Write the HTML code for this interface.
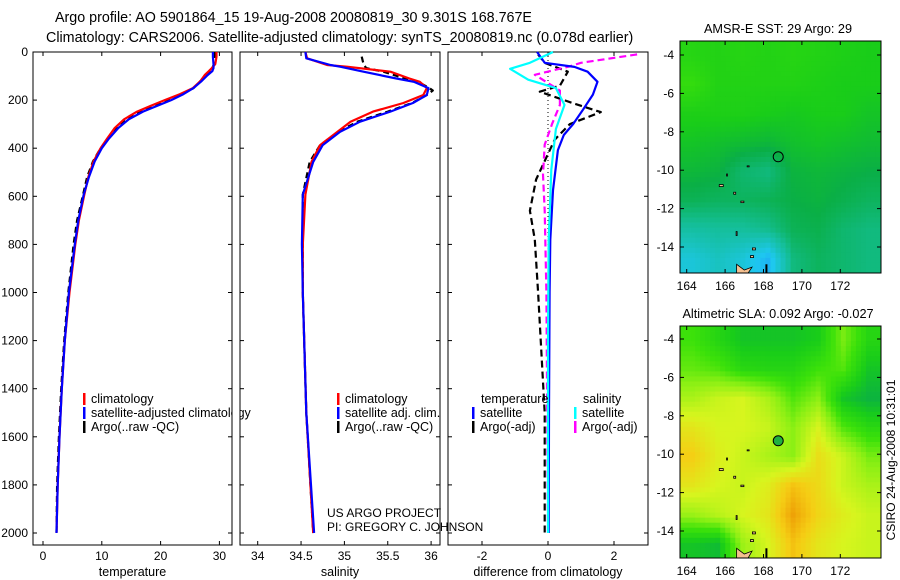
<!DOCTYPE html>
<html><head><meta charset="utf-8"><style>
html,body{margin:0;padding:0;background:#fff;}
svg{display:block;font-family:"Liberation Sans",sans-serif;}
</style></head><body>
<svg id="fig" width="900" height="580" viewBox="0 0 900 580" xmlns="http://www.w3.org/2000/svg">
<text x="55" y="22" font-size="14.3">Argo profile: AO 5901864_15 19-Aug-2008 20080819_30 9.301S 168.767E</text>
<text x="46" y="42" font-size="14.3">Climatology: CARS2006. Satellite-adjusted climatology: synTS_20080819.nc (0.078d earlier)</text>
<g id="plots"></g>
<text x="327" y="517" font-size="12">US ARGO PROJECT</text>
<text x="327" y="531" font-size="12">PI: GREGORY C. JOHNSON</text>
<text transform="translate(895,460) rotate(-90)" text-anchor="middle" font-size="12">CSIRO 24-Aug-2008 10:31:01</text>
</svg>
<script>
// ---- profile data ----
const tDepth = [0,20,50,67,80,96,120,150,175,200,225,248,280,316,360,400,455,520,595,700,800,1000,1200,1400,1600,1800,2000];
const tClim  = [29.5,29.5,29.3,28.7,28.2,27.5,26.8,25.5,23.3,20.7,18.2,16.0,13.8,12.2,10.9,9.8,8.6,7.7,7.0,6.1,5.5,4.5,3.7,3.2,2.8,2.5,2.3];
const tSat   = [28.9,28.9,29.0,29.0,28.8,28.0,27.0,25.6,23.9,21.8,19.3,17.0,14.6,12.8,11.2,10.0,8.8,7.8,6.9,6.0,5.4,4.4,3.7,3.2,2.8,2.5,2.3];
const tArgo  = [29.2,29.2,29.1,28.8,28.4,27.6,26.8,25.6,23.6,21.2,18.7,16.4,14.2,12.5,11.0,9.8,8.5,7.5,6.8,5.8,5.2,4.3,3.6,3.1,2.7,2.4,2.3];
const sDepth = [0,26,54,61,82,110,124,150,179,212,248,290,332,387,457,593,800,1000,1500,2000];
const sClim  = [34.55,34.57,34.8,35.03,35.53,35.75,35.87,35.95,35.91,35.68,35.33,35.07,34.92,34.72,34.62,34.55,34.52,34.52,34.56,34.64];
const sSat   = [34.55,34.56,34.84,34.95,35.22,35.6,35.8,35.97,35.95,35.79,35.53,35.18,34.95,34.75,34.64,34.52,34.51,34.52,34.56,34.65];
const sArgoDepth = [19,50,67,82,110,124,150,160,179,212,248,290,332,387,457,593,800,1000,1500,2000];
const sArgo  = [35.2,35.22,35.25,35.45,35.7,35.85,35.98,36.02,35.95,35.78,35.5,35.15,34.93,34.72,34.6,34.52,34.52,34.52,34.56,34.64];
const dDepth = [0,45,62,82,124,177,240,300,345,408,575,780,1000,1500,2000];
const dTSat  = [-0.33,-0.1,0.8,1.2,1.5,1.36,1.06,0.76,0.48,0.3,0.15,0.07,0.05,0.03,0.02];
const cDepth = [0,45,70,115,150,220,320,490,780,1200,2000];
const dSSat  = [0.15,-0.55,-1.15,-0.6,0.24,0.5,0.24,0.1,0.02,0.0,0.0];
const mDepth = [10,45,60,95,160,220,300,385,510,660,1000,2000];
const dSArgo = [2.7,1.0,0.65,-0.4,0.36,0.36,0.12,-0.1,-0.15,-0.1,-0.05,0.0];
const kDepth = [10,45,82,140,165,215,250,300,365,530,660,780,1000,1500,2000];
const dTArgo = [-0.3,-0.1,0.6,0.36,-0.25,0.8,1.6,0.66,0.2,-0.36,-0.55,-0.4,-0.3,-0.1,-0.1];
const depthTicks = [0,200,400,600,800,1000,1200,1400,1600,1800,2000];
const tTicks = [0,10,20,30];
const sTicks = [34,34.5,35,35.5,36];
const dTicks = [-2,0,2];
// ---- map data (rows north->south, cols west->east) ----
const sstGrid = [
[0.55,0.54,0.55,0.54,0.55,0.54,0.53,0.52],
[0.58,0.54,0.54,0.54,0.54,0.53,0.52,0.52],
[0.53,0.53,0.53,0.52,0.51,0.52,0.52,0.50],
[0.50,0.49,0.48,0.47,0.49,0.50,0.49,0.48],
[0.47,0.46,0.40,0.38,0.46,0.47,0.46,0.45],
[0.43,0.42,0.42,0.43,0.45,0.46,0.44,0.42],
[0.33,0.34,0.34,0.36,0.43,0.44,0.40,0.38],
[0.24,0.28,0.24,0.16,0.38,0.42,0.40,0.38]];
const slaGrid = [
[0.60,0.55,0.50,0.50,0.50,0.52,0.66,0.55],
[0.64,0.62,0.56,0.55,0.55,0.60,0.62,0.50],
[0.72,0.76,0.78,0.72,0.62,0.68,0.50,0.46],
[0.82,0.78,0.78,0.76,0.68,0.78,0.62,0.56],
[0.88,0.80,0.76,0.72,0.68,0.84,0.76,0.66],
[0.82,0.78,0.76,0.80,0.90,0.85,0.76,0.72],
[0.70,0.74,0.78,0.82,0.96,0.86,0.80,0.76],
[0.50,0.48,0.70,0.78,0.90,0.82,0.78,0.76]];
const lonTicks = [164,166,168,170,172];
const latTicks = [-4,-6,-8,-10,-12,-14];
const argoLon = 168.767, argoLat = -9.301;

const NS = "http://www.w3.org/2000/svg";
const root = document.getElementById('plots');
function mk(tag, attrs, parent){ const e=document.createElementNS(NS,tag); for(const k in attrs) e.setAttribute(k,attrs[k]); (parent||root).appendChild(e); return e; }

const Y0=52, Y1=545;
const yP = p => Y0 + 0.2405*p;
const panels = [
 {x0:33,x1:232,f:v=>43+5.88*v,ticks:tTicks,label:'temperature',name:'temperature-panel'},
 {x0:240,x1:440,f:v=>257.7+86.7*(v-34),ticks:sTicks,label:'salinity',name:'salinity-panel'},
 {x0:448,x1:648,f:v=>548+33*v,ticks:dTicks,label:'difference from climatology',name:'difference-panel'}];

panels.forEach((P,i)=>{
  const g = mk('g',{});
  
  
  const r = mk('rect',{x:P.x0,y:Y0,width:P.x1-P.x0,height:Y1-Y0,fill:'none',stroke:'#000','stroke-width':1},g);
  
  
  depthTicks.forEach(d=>{
    const y=yP(d);
    mk('line',{x1:P.x0,x2:P.x0+4,y1:y,y2:y,stroke:'#000'},g);
    mk('line',{x1:P.x1-4,x2:P.x1,y1:y,y2:y,stroke:'#000'},g);
    if(i===0){ const t=mk('text',{x:28,y:y+4,'text-anchor':'end','font-size':12},g); t.textContent=d;
      
       }
  });
  P.ticks.forEach(v=>{
    const x=P.f(v);
    mk('line',{x1:x,x2:x,y1:Y1,y2:Y1-4,stroke:'#000'},g);
    mk('line',{x1:x,x2:x,y1:Y0,y2:Y0+4,stroke:'#000'},g);
    const t=mk('text',{x:x,y:Y1+15,'text-anchor':'middle','font-size':12},g); t.textContent=v;
    
    
  });
  const xl=mk('text',{x:(P.x0+P.x1)/2,y:576,'text-anchor':'middle','font-size':12.5},g); xl.textContent=P.label;
  
  
  P.g=g;
});

function line(P, depths, vals, color, dash, name){
  const pts = depths.map((d,k)=>P.f(vals[k]).toFixed(1)+','+yP(d).toFixed(1)).join(' ');
  const e = mk('polyline',{points:pts,fill:'none',stroke:color,'stroke-width':2.2,'stroke-linejoin':'round'},P.g);
  if(dash) e.setAttribute('stroke-dasharray',dash);
  
  
}
mk('line',{x1:548,x2:548,y1:Y0,y2:yP(1000),stroke:'#000','stroke-dasharray':'1,3'},panels[2].g);
line(panels[0],tDepth,tArgo,'#000','6,4','temp-argo-line');
line(panels[0],tDepth,tClim,'#f00',null,'temp-climatology-line');
line(panels[0],tDepth,tSat,'#00f',null,'temp-satellite-line');
line(panels[1],sArgoDepth,sArgo,'#000','6,4','sal-argo-line');
line(panels[1],sDepth,sClim,'#f00',null,'sal-climatology-line');
line(panels[1],sDepth,sSat,'#00f',null,'sal-satellite-line');
line(panels[2],kDepth,dTArgo,'#000','7,4','temp-argo-diff-line');
line(panels[2],mDepth,dSArgo,'#f0f','7,4','sal-argo-diff-line');
line(panels[2],dDepth,dTSat,'#00f',null,'temp-satellite-diff-line');
line(panels[2],cDepth,dSSat,'#0ff',null,'sal-satellite-diff-line');

function legend(x,y,color,txt,g){
  const b=mk('rect',{x:x,y:y-10,width:2.5,height:12,fill:color},g);
  
  
  const t=mk('text',{x:x+8,y:y,'font-size':12.5},g); t.textContent=txt;
  
  
}
legend(83,403,'#f00','climatology',panels[0].g);
legend(83,417,'#00f','satellite-adjusted climatology',panels[0].g);
legend(83,431,'#000','Argo(..raw -QC)',panels[0].g);
legend(337,403,'#f00','climatology',panels[1].g);
legend(337,417,'#00f','satellite adj. clim.',panels[1].g);
legend(337,431,'#000','Argo(..raw -QC)',panels[1].g);
const lt=mk('text',{x:481,y:403,'font-size':12.5},panels[2].g); lt.textContent='temperature';


const ls=mk('text',{x:583,y:403,'font-size':12.5},panels[2].g); ls.textContent='salinity';


legend(472,417,'#00f','satellite',panels[2].g);
legend(472,431,'#000','Argo(-adj)',panels[2].g);
legend(574,417,'#0ff','satellite',panels[2].g);
legend(574,431,'#f0f','Argo(-adj)',panels[2].g);
mk('rect',{x:232.5,y:405,width:7,height:16,fill:'#fff'},panels[0].g);

// ---- maps ----
const stops=[[0,[30,100,255]],[0.2,[30,200,240]],[0.35,[20,190,150]],[0.45,[10,175,70]],[0.52,[25,205,25]],[0.6,[60,225,10]],[0.68,[140,240,20]],[0.78,[215,245,30]],[0.88,[245,205,20]],[1,[235,140,0]]];
function cmap(v){
  for(let i=1;i<stops.length;i++){ if(v<=stops[i][0]){ const a=stops[i-1],b=stops[i],t=(v-a[0])/(b[0]-a[0]);
    return 'rgb('+a[1].map((c,k)=>Math.round(c+(b[1][k]-c)*t)).join(',')+')'; } }
  return 'rgb(235,140,0)';
}
function sample(G,r,c){
  const R=G.length-1,C=G[0].length-1;
  r=Math.max(0,Math.min(R,r)); c=Math.max(0,Math.min(C,c));
  const r0=Math.floor(r),c0=Math.floor(c),r1=Math.min(R,r0+1),c1=Math.min(C,c0+1),fr=r-r0,fc=c-c0;
  return G[r0][c0]*(1-fr)*(1-fc)+G[r0][c1]*(1-fr)*fc+G[r1][c0]*fr*(1-fc)+G[r1][c1]*fr*fc;
}
function drawMap(cfg){
  const g=mk('g',{});
  
  
  const X0=680,X1=881,T=cfg.top,B=cfg.top+232;
  const lonX = lon => 686.7+19.2*(lon-164);
  const latY = lat => cfg.y4+19.2*(-4-lat);
  const NX=40,NY=46,cw=(X1-X0)/NX,ch=(B-T)/NY;
  const G=cfg.grid;
  for(let j=0;j<NY;j++)for(let i=0;i<NX;i++){
    const v=sample(G,(j+0.5)/NY*G.length-0.5,(i+0.5)/NX*G[0].length-0.5);
    mk('rect',{x:(X0+i*cw).toFixed(2),y:(T+j*ch).toFixed(2),width:(cw+0.4).toFixed(2),height:(ch+0.4).toFixed(2),fill:cmap(v)},g);
  }
  const isl=[[165.8,-10.8,4,2],[166.5,-11.2,2,2],[166.9,-11.65,3,1.5],[166.6,-13.3,1,4],[167.5,-14.1,3,2],[167.4,-14.5,3,2],[166.1,-10.25,1,2],[167.2,-9.8,2,1]];
  isl.forEach(s=>mk('rect',{x:lonX(s[0])-s[2]/2,y:latY(s[1])-s[3]/2,width:s[2],height:s[3],fill:'#f4c090',stroke:'#000','stroke-width':0.8},g));
  mk('path',{d:`M${lonX(166.6)} ${B} L${lonX(166.6)} ${latY(-14.9)} L${lonX(167.0)} ${latY(-15.2)} L${lonX(167.4)} ${latY(-15.05)} L${lonX(167.2)} ${B} Z`,fill:'#f4c090',stroke:'#000','stroke-width':0.8},g);
  mk('rect',{x:lonX(168.1),y:latY(-14.9),width:2,height:B-latY(-14.9),fill:'#000'},g);
  const c=mk('circle',{cx:lonX(argoLon),cy:latY(argoLat),r:5,fill:cfg.dotFill,stroke:'#000','stroke-width':1},g);
  
  
  mk('rect',{x:X0,y:T,width:X1-X0,height:B-T,fill:'none',stroke:'#000'},g);
  lonTicks.forEach(l=>{ const x=lonX(l);
    mk('line',{x1:x,x2:x,y1:B,y2:B-4,stroke:'#000'},g); mk('line',{x1:x,x2:x,y1:T,y2:T+4,stroke:'#000'},g);
    const t=mk('text',{x:x,y:B+17,'text-anchor':'middle','font-size':12},g); t.textContent=l;
    
     });
  latTicks.forEach(l=>{ const y=latY(l);
    mk('line',{x1:X0,x2:X0+4,y1:y,y2:y,stroke:'#000'},g); mk('line',{x1:X1-4,x2:X1,y1:y,y2:y,stroke:'#000'},g);
    const t=mk('text',{x:X0-6,y:y+4,'text-anchor':'end','font-size':12},g); t.textContent=l;
    
     });
  const tt=mk('text',{x:778,y:T-8,'text-anchor':'middle','font-size':12.7},g); tt.textContent=cfg.title;
  
  
}
drawMap({name:'sst-map',grid:sstGrid,top:41,y4:55,title:'AMSR-E SST: 29 Argo: 29',dotFill:'none'});
drawMap({name:'sla-map',grid:slaGrid,top:326,y4:339,title:'Altimetric SLA: 0.092 Argo: -0.027',dotFill:'#20b040'});
</script>
</body></html>
